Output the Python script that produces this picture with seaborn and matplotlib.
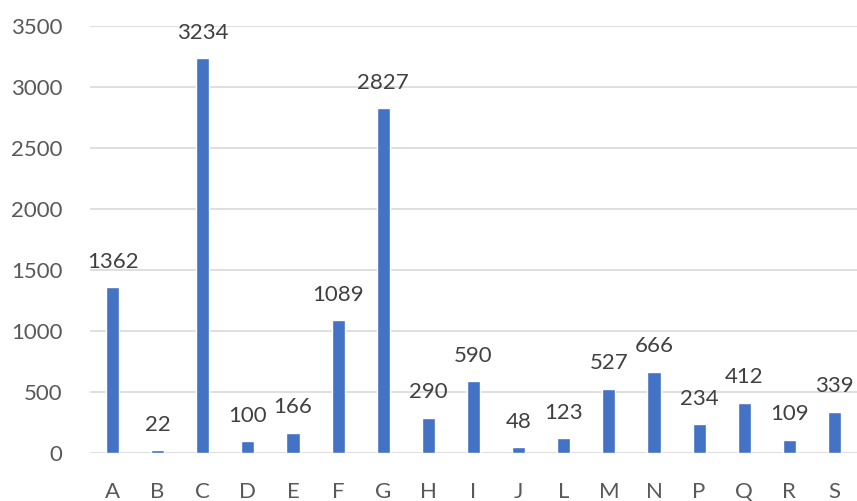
import matplotlib
matplotlib.use("Agg")
import matplotlib.pyplot as plt
import seaborn as sns
import pandas as pd

categories = ["A", "B", "C", "D", "E", "F", "G", "H", "I", "J", "L", "M", "N", "P", "Q", "R", "S"]
values = [1362, 22, 3234, 100, 166, 1089, 2827, 290, 590, 48, 123, 527, 666, 234, 412, 109, 339]
y_ticks = [0, 500, 1000, 1500, 2000, 2500, 3000, 3500]

df = pd.DataFrame({"category": categories, "value": values})

sns.set_theme(style="white")
plt.rcParams["font.family"] = ["Lato", "DejaVu Sans"]

W, H = 857, 501
fig = plt.figure(figsize=(W / 100, H / 100), dpi=100)
ax = fig.add_axes([90 / W, (H - 453) / H, (857 - 90) / W, (453 - 26) / H])

sns.barplot(data=df, x="category", y="value", color="#4472C4", width=0.29,
            saturation=1, ax=ax, zorder=3)

ax.set_ylim(0, 3500)
ax.set_yticks(y_ticks)
ax.set_xlim(-0.5, len(categories) - 0.5)
ax.yaxis.grid(True, color="#D9D9D9", linewidth=1.2, zorder=0)
ax.xaxis.grid(False)
for s in ax.spines.values():
    s.set_visible(False)
ax.set_xlabel("")
ax.set_ylabel("")
ax.tick_params(axis="y", length=0, pad=20, labelsize=16, labelcolor="#595959")
ax.tick_params(axis="x", length=0, pad=21, labelsize=16, labelcolor="#595959")

for i, v in enumerate(values):
    ax.annotate(str(v), (i, v), xytext=(0, 11), textcoords="offset points",
                ha="center", va="bottom", fontsize=16, color="#404040",
                annotation_clip=False)

fig.savefig("out.png", dpi=100)
